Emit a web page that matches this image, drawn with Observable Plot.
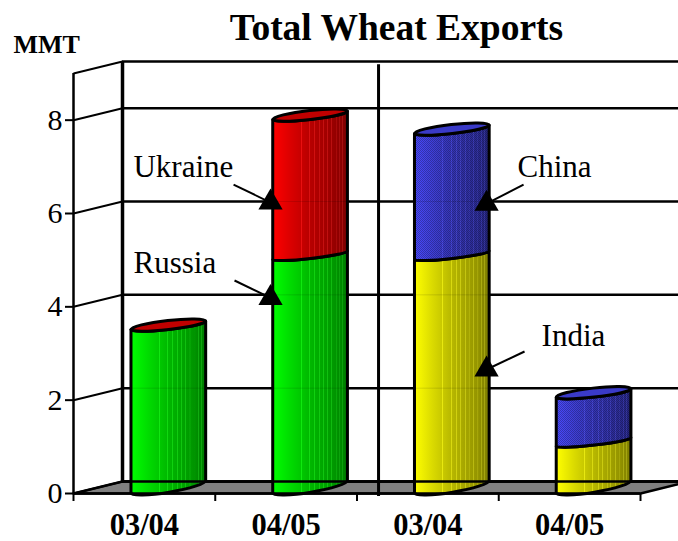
<!DOCTYPE html>
<html>
<head>
<meta charset="utf-8">
<style>
html,body{margin:0;padding:0;background:#fff;overflow:hidden}
</style>
<script src="https://cdn.jsdelivr.net/npm/d3@7"></script>
<script src="https://cdn.jsdelivr.net/npm/@observablehq/plot@0.6"></script>
</head>
<body>
<div id="chart"></div>
<script>
const periods = ["03/04", "04/05", "03/04", "04/05"];
const russia = [3.5, 5.0];
const ukraine = [0, 3.0];
const india = [5.0, 1.0];
const china = [2.7, 1.05];
const yTicks = [0, 2, 4, 6, 8];
const yTop = 9;
const seriesNames = ["Russia", "Ukraine", "India", "China"];
const seriesColors = ["#00ff00", "#ff0000", "#ffff00", "#4a4aff"];
const capColors = {"#00ff00": "#00b000", "#ff0000": "#c00000", "#ffff00": "#c0c000", "#4a4aff": "#3a3ac8"};

const noteNames = ["Ukraine", "Russia", "China", "India"];
const noteX = [0.423, 0.423, 3.132, 3.302];
const noteY = [6.79, 4.735, 6.79, 3.17];
const arrowX1 = [1.129, 1.136, 3.175, 3.182];
const arrowY1 = [6.62, 4.564, 6.62, 3.043];
const arrowX2 = [1.39, 1.39, 2.914, 2.914];
const arrowY2 = [6.235, 4.19, 6.21, 2.657];

const rows = [];
[[russia, ukraine, "Russia", "Ukraine", 0], [india, china, "India", "China", 2]].forEach(([lo, hi, a, b, off]) => {
  lo.forEach((v, k) => {
    rows.push({i: off + k, series: a, y0: 0, y1: v, top: false});
    rows.push({i: off + k, series: b, y0: v, y1: v + hi[k], top: true});
  });
});

const serif = "Liberation Serif";
const depthX = 0.3457, depthY = 0.257, nBands = 4;
const barLeft = 0.409, barRight = 0.936;
const stripes = [0.38, 0.49, 0.56, 0.62, 0.68, 0.73, 0.79, 0.85, 0.90, 0.94];
const shade = [[0, 1], [0.25, 0.85], [0.5, 0.72], [0.85, 0.58], [1, 0.48]];

function cylinders(index, scales, values) {
  const g = d3.create("svg:g");
  const defs = g.append("defs");
  const shadeAt = f => {
    for (let k = 1; k < shade.length; k++) {
      if (f <= shade[k][0]) {
        const [a, b] = [shade[k - 1], shade[k]];
        return a[1] + (b[1] - a[1]) * (f - a[0]) / (b[0] - a[0]);
      }
    }
    return 0.48;
  };
  seriesColors.forEach((c, n) => {
    const grad = defs.append("linearGradient").attr("id", "cyl" + n);
    const rgb = d3.rgb(c);
    const col = (s, lift) => {
      const f = v => Math.round(Math.min(255, v * s + (v > 100 ? lift : lift * 0.5)));
      return d3.rgb(f(rgb.r), f(rgb.g), f(rgb.b)).formatHex();
    };
    const marks = [];
    shade.forEach(([f]) => marks.push([f, col(shadeAt(f), 0)]));
    stripes.forEach(f => {
      marks.push([f - 0.007, col(shadeAt(f), 0)]);
      marks.push([f - 0.006, col(shadeAt(f), 32)]);
      marks.push([f + 0.006, col(shadeAt(f), 32)]);
      marks.push([f + 0.007, col(shadeAt(f), 0)]);
    });
    marks.sort((a, b) => a[0] - b[0]).forEach(([f, s]) => {
      grad.append("stop").attr("offset", f).attr("stop-color", s);
    });
  });
  const pat = defs.append("pattern").attr("id", "dither").attr("width", 2).attr("height", 2).attr("patternUnits", "userSpaceOnUse");
  pat.append("rect").attr("width", 1).attr("height", 1).attr("fill", "#000").attr("fill-opacity", 0.26);
  pat.append("rect").attr("x", 1).attr("y", 1).attr("width", 1).attr("height", 1).attr("fill", "#000").attr("fill-opacity", 0.26);

  for (const i of index) {
    const xl = values.x1[i], xr = values.x2[i];
    const yb = values.y1[i], yt = values.y2[i];
    const base = rows[i].y0 === 0;
    const tb = base ? 12.5 : 8.5, rb = base ? 5.5 : 3;
    const tt = 8.5, rt = rows[i].top ? 4 : 3;
    const rot = t => (-Math.atan2(t, xr - xl) * 180 / Math.PI).toFixed(2);
    const r = t => Math.hypot(xr - xl, t) / 2;
    const c = values.fill[i];
    const idx = seriesColors.indexOf(c);
    const d = `M${xl},${yt}` +
      `A${r(tt)},${rt} ${rot(tt)} 0 0 ${xr},${yt - tt}` +
      `L${xr},${yb - tb}` +
      `A${r(tb)},${rb} ${rot(tb)} 0 1 ${xl},${yb}Z`;
    g.append("path").attr("d", d).attr("fill", `url(#cyl${idx})`);
    if (rows[i].series === "China") g.append("path").attr("d", d).attr("fill", "url(#dither)");
    g.append("path").attr("d", d).attr("fill", "none").attr("stroke", "#000").attr("stroke-width", 3).attr("stroke-linejoin", "round");
    if (rows[i].top) {
      g.append("path")
        .attr("d", `M${xl},${yt}A${r(tt)},${rt} ${rot(tt)} 0 0 ${xr},${yt - tt}A${r(tt)},${rt + 1} ${rot(tt)} 0 0 ${xl},${yt}Z`)
        .attr("fill", capColors[c]).attr("stroke", "#000").attr("stroke-width", 3);
    }
  }
  return g.node();
}

const wallY = [...yTicks, yTop];
const notes = noteNames.map((name, k) => ({name, x: noteX[k], y: noteY[k], x1: arrowX1[k], y1: arrowY1[k], x2: arrowX2[k], y2: arrowY2[k]}));
const floor = [[0, 0], [nBands, 0], [nBands + depthX, depthY], [depthX, depthY]];
const xEnd = 605 / 141.75;

const plot = Plot.plot({
  width: 678,
  height: 541,
  marginTop: 73,
  marginBottom: 48,
  marginLeft: 73,
  marginRight: 0,
  style: {background: "#fff", fontFamily: serif},
  x: {domain: [0, xEnd], axis: null},
  y: {domain: [0, yTop], axis: null},
  color: {domain: seriesNames, range: seriesColors},
  marks: [
    Plot.line(floor.concat([floor[0]]), {x: d => d[0], y: d => d[1], fill: "#808080", stroke: "#000", strokeWidth: 2.5}),
    Plot.ruleY(wallY, {y: d => d + depthY, x1: depthX, x2: xEnd, stroke: "#000", strokeWidth: 2.5, strokeOpacity: 1}),
    Plot.ruleX([depthX], {y1: depthY, y2: yTop + depthY, stroke: "#000", strokeWidth: 3.5, strokeOpacity: 1}),
    Plot.link(wallY, {x1: 0, x2: depthX, y1: d => d, y2: d => d + depthY, stroke: "#000", strokeWidth: 2, strokeOpacity: 1}),
    Plot.ruleX([0], {y1: 0, y2: yTop, stroke: "#000", strokeWidth: 2.5, strokeOpacity: 1}),
    Plot.ruleX([2.152], {y1: -0.064, y2: 9.19, stroke: "#000", strokeWidth: 3, strokeOpacity: 1}),
    Plot.axisY({ticks: yTicks, anchor: "left", tickSize: 8, tickPadding: 3, fontSize: 30, fontFamily: serif, fill: "#000", stroke: "#000", strokeWidth: 2, strokeOpacity: 1, label: null}),
    Plot.axisX({ticks: d3.range(nBands + 1), anchor: "bottom", tickSize: 8, tickFormat: () => "", stroke: "#000", strokeWidth: 2, strokeOpacity: 1, label: null}),
    Plot.rectY(rows, {x1: d => d.i + barLeft, x2: d => d.i + barRight, y1: "y0", y2: "y1", fill: "series", render: cylinders}),
    Plot.ruleY(yTicks.slice(1), {y: d => d + depthY, x1: depthX, x2: xEnd, stroke: "#000", strokeWidth: 1, strokeOpacity: 0.12}),
    Plot.ruleY([0], {y: depthY, x1: depthX, x2: nBands + depthX, stroke: "#000", strokeWidth: 2.5, strokeOpacity: 1}),
    Plot.ruleY([0], {x1: 0, x2: nBands, stroke: "#000", strokeWidth: 2.5, strokeOpacity: 1}),
    Plot.link(notes, {x1: "x1", y1: "y1", x2: "x2", y2: "y2", stroke: "#000", strokeWidth: 2, strokeOpacity: 1}),
    Plot.dot(notes, {x: "x2", y: "y2", symbol: "triangle", r: 9, fill: "#000", stroke: "none"}),
    Plot.text(notes, {x: "x", y: "y", text: "name", textAnchor: "start", lineAnchor: "bottom", fontSize: 31, fontFamily: serif, fill: "#000"}),
    Plot.text(periods, {x: (d, i) => i + 0.5, y: 0, text: d => d, dy: 41.5, lineAnchor: "bottom", fontSize: 30.5, fontWeight: "bold", fontFamily: serif, fill: "#000"}),
    Plot.text(["Total Wheat Exports"], {frameAnchor: "top-left", dx: 323, dy: -34, textAnchor: "middle", lineAnchor: "bottom", fontSize: 37.5, fontWeight: "bold", fontFamily: serif, fill: "#000"}),
    Plot.text(["MMT"], {frameAnchor: "top-left", dx: -60, dy: -21, textAnchor: "start", lineAnchor: "bottom", fontSize: 26, fontWeight: "bold", fontFamily: serif, fill: "#000"})
  ]
});
document.getElementById("chart").append(plot);
</script>
</body>
</html>
